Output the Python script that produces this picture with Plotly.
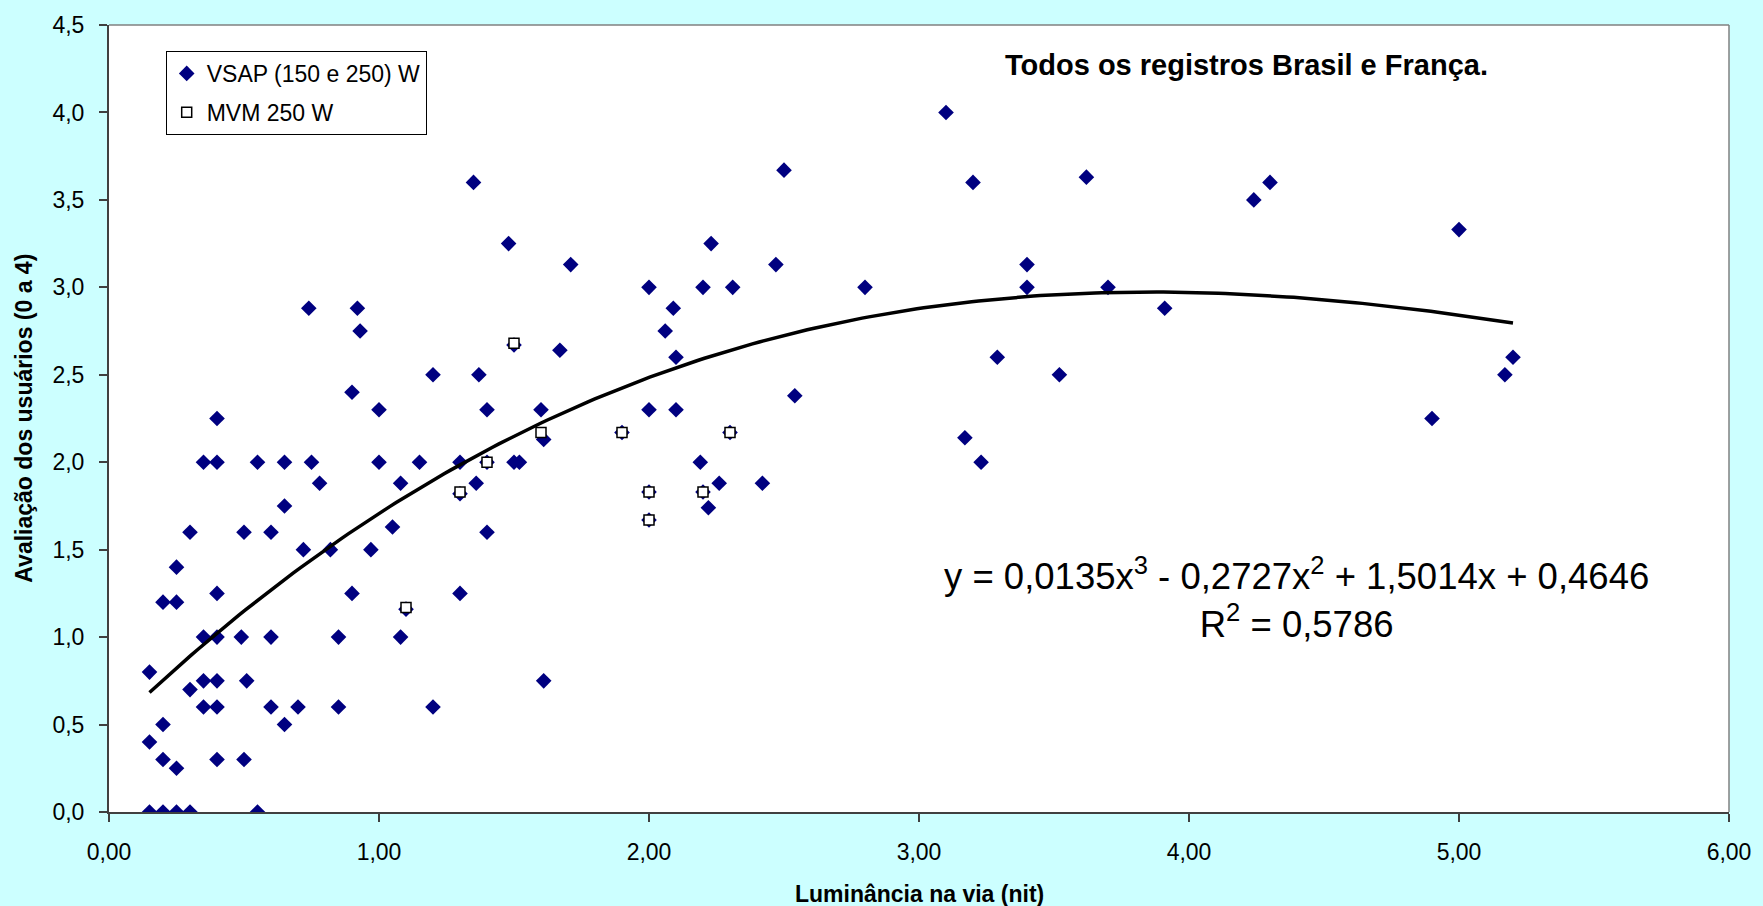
import numpy as np
import plotly.graph_objects as go

# VSAP (150 e 250) W records: luminance (nit) and user rating (0-4)
vsap_x = [
    0.15, 0.20, 0.25, 0.30, 0.55,
    0.15, 0.20, 0.25, 0.40, 0.50,
    0.20, 0.65,
    0.35, 0.40, 0.60, 0.70, 0.85, 1.20,
    0.30,
    0.35, 0.40, 0.51, 1.61,
    0.15,
    0.35, 0.40, 0.49, 0.60, 0.85, 1.08,
    1.10,
    0.20, 0.25,
    0.40, 0.90, 1.30,
    0.25,
    0.72, 0.82, 0.97,
    0.30, 0.50, 0.60, 1.40,
    1.05,
    0.65, 2.22,
    1.30, 2.00, 2.20, 2.00,
    0.78, 1.08, 1.36, 2.26, 2.42,
    0.35, 0.40, 0.55, 0.65, 0.75, 1.00, 1.15, 1.30, 1.40, 1.50, 1.52, 2.19, 3.23,
    1.61, 1.90, 2.30, 3.17,
    0.40, 4.90,
    1.00, 1.40, 1.60, 2.00, 2.10,
    2.54,
    0.90,
    1.20, 1.37, 3.52, 5.17,
    2.10, 3.29, 5.20,
    1.67,
    1.50,
    0.93, 2.06,
    0.74, 0.92, 2.09, 3.91,
    2.00, 2.20, 2.31, 2.80, 3.40, 3.70,
    1.71, 2.47, 3.40,
    1.48, 2.23,
    5.00,
    4.24,
    1.35, 3.20, 4.30,
    3.62,
    2.50,
    3.10,
]
vsap_y = [
    0.00, 0.00, 0.00, 0.00, 0.00,
    0.40, 0.30, 0.25, 0.30, 0.30,
    0.50, 0.50,
    0.60, 0.60, 0.60, 0.60, 0.60, 0.60,
    0.70,
    0.75, 0.75, 0.75, 0.75,
    0.80,
    1.00, 1.00, 1.00, 1.00, 1.00, 1.00,
    1.16,
    1.20, 1.20,
    1.25, 1.25, 1.25,
    1.40,
    1.50, 1.50, 1.50,
    1.60, 1.60, 1.60, 1.60,
    1.63,
    1.75, 1.74,
    1.82, 1.83, 1.83, 1.67,
    1.88, 1.88, 1.88, 1.88, 1.88,
    2.00, 2.00, 2.00, 2.00, 2.00, 2.00, 2.00, 2.00, 2.00, 2.00, 2.00, 2.00, 2.00,
    2.13, 2.17, 2.17, 2.14,
    2.25, 2.25,
    2.30, 2.30, 2.30, 2.30, 2.30,
    2.38,
    2.40,
    2.50, 2.50, 2.50, 2.50,
    2.60, 2.60, 2.60,
    2.64,
    2.67,
    2.75, 2.75,
    2.88, 2.88, 2.88, 2.88,
    3.00, 3.00, 3.00, 3.00, 3.00, 3.00,
    3.13, 3.13, 3.13,
    3.25, 3.25,
    3.33,
    3.50,
    3.60, 3.60, 3.60,
    3.63,
    3.67,
    4.00,
]

# MVM 250 W records
mvm_x = [1.10, 1.30, 1.40, 1.50, 1.60, 1.90, 2.00, 2.00, 2.20, 2.30]
mvm_y = [1.17, 1.83, 2.00, 2.68, 2.17, 2.17, 1.83, 1.67, 1.83, 2.17]

# Third-order polynomial trendline as stated on the chart
trend_coef = [0.0135, -0.2727, 1.5014, 0.4646]
trend_r2 = 0.5786
trend_x_range = [0.15, 5.20]

x_ticks = [0, 1, 2, 3, 4, 5, 6]
y_ticks = [0, 0.5, 1, 1.5, 2, 2.5, 3, 3.5, 4, 4.5]

FONT = "Arial, 'Liberation Sans', sans-serif"
NAVY = "#000080"
AXIS = "#404040"


def fmt(v):
    return f"{v:.4f}".replace(".", ",")


tx = np.linspace(trend_x_range[0], trend_x_range[1], 200)
ty = np.polyval(trend_coef, tx)

fig = go.Figure()

fig.add_trace(go.Scatter(
    x=vsap_x, y=vsap_y, mode="markers", name="VSAP (150 e 250) W",
    legendgroup="vsap",
    marker=dict(symbol="diamond", size=12, color=NAVY, line=dict(width=0)),
))
fig.add_trace(go.Scatter(
    x=tx, y=ty, mode="lines", showlegend=False,
    line=dict(color="black", width=3.5),
))
fig.add_trace(go.Scatter(
    x=mvm_x, y=mvm_y, mode="markers", name="MVM 250 W",
    legendgroup="mvm",
    marker=dict(symbol="square", size=10, color="white",
                line=dict(color="black", width=1.5)),
))

a, b, c, d = trend_coef
sign_b = "-" if b < 0 else "+"
sign_c = "-" if c < 0 else "+"
sign_d = "-" if d < 0 else "+"
eq_text = (
    f"y = {fmt(a)}x<sup>3</sup> {sign_b} {fmt(abs(b))}x<sup>2</sup> "
    f"{sign_c} {fmt(abs(c))}x {sign_d} {fmt(abs(d))}"
    f"<br>R<sup>2</sup> = {fmt(trend_r2)}"
)

annotations = [
    dict(text="<b>Todos os registros Brasil e França.</b>",
         xref="paper", yref="paper", x=0.702, y=0.949,
         xanchor="center", yanchor="middle", showarrow=False,
         font=dict(family=FONT, size=29, color="black")),
    dict(text=eq_text, xref="paper", yref="paper", x=0.733, y=0.272,
         xanchor="center", yanchor="middle", align="center", showarrow=False,
         font=dict(family=FONT, size=36.5, color="black")),
    dict(text="<b>Avaliação dos usuários (0 a 4)</b>",
         xref="paper", yref="paper", x=-0.053, y=0.5, textangle=-90,
         xanchor="center", yanchor="middle", showarrow=False,
         font=dict(family=FONT, size=23, color="black")),
    dict(text="<b>Luminância na via (nit)</b>",
         xref="paper", yref="paper", x=0.5, y=-0.104,
         xanchor="center", yanchor="middle", showarrow=False,
         font=dict(family=FONT, size=23, color="black")),
]

shapes = [
    dict(type="line", xref="paper", yref="paper", x0=0, x1=1, y0=1, y1=1,
         line=dict(color="#808080", width=1.5)),
    dict(type="line", xref="paper", yref="paper", x0=1, x1=1, y0=0, y1=1,
         line=dict(color="#808080", width=1.5)),
]

fig.update_layout(
    width=1763, height=906,
    margin=dict(l=109, r=26, t=25, b=94, pad=0),
    paper_bgcolor="#CCFFFF", plot_bgcolor="white",
    separators=",.",
    font=dict(family=FONT, size=23, color="black"),
    showlegend=True,
    legend=dict(x=0.035, y=0.967, xanchor="left", yanchor="top",
                bgcolor="white", bordercolor="black", borderwidth=1,
                font=dict(family=FONT, size=23, color="black"),
                itemwidth=30,
                traceorder="grouped", tracegroupgap=6),
    annotations=annotations,
    shapes=shapes,
)
fig.update_xaxes(range=[0, 6], tickvals=x_ticks, tickformat=".2f",
                 showgrid=False, zeroline=False, showline=True,
                 linecolor=AXIS, linewidth=2, ticks="outside", ticklen=8,
                 tickcolor=AXIS, tickwidth=2, ticklabelstandoff=10,
                 tickfont=dict(family=FONT, size=23, color="black"))
fig.update_yaxes(range=[0, 4.5], tickvals=y_ticks, tickformat=".1f",
                 showgrid=False, zeroline=False, showline=True,
                 linecolor=AXIS, linewidth=2, ticks="outside", ticklen=8,
                 tickcolor=AXIS, tickwidth=2, ticklabelstandoff=10,
                 tickfont=dict(family=FONT, size=23, color="black"))

fig.write_html("out.html")
